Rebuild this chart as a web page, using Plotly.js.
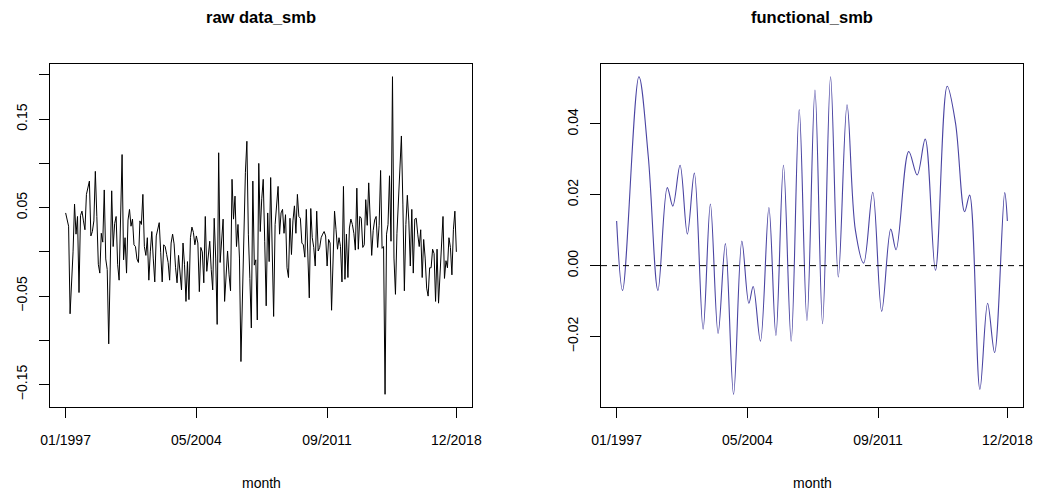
<!DOCTYPE html>
<html>
<head>
<meta charset="utf-8">
<script src="https://cdn.plot.ly/plotly-3.0.1.min.js"></script>
<style>
html,body{margin:0;padding:0;background:#fff;}
#chart{width:1044px;height:493px;}
</style>
</head>
<body>
<div id="chart"></div>
<script>
// ---- data ----
const titles = ["raw data_smb", "functional_smb"];
const xTickIdx = [1, 89, 177, 264];
const xTickLabels = ["01/1997", "05/2004", "09/2011", "12/2018"];
const rawTickVals = [-0.15, -0.10, -0.05, 0, 0.05, 0.10, 0.15, 0.20];
const rawTickText = ["\u22120.15", "", "\u22120.05", "", "0.05", "", "0.15", ""];
const funTickVals = [-0.02, 0, 0.02, 0.04];
const funTickText = ["\u22120.02", "0.00", "0.02", "0.04"];

// monthly raw smb, 01/1997 .. 12/2018
const rawSmb = [
 0.044, 0.036, 0.029, -0.070, -0.035, 0.000, 0.054, 0.020, 0.040, -0.046, 0.041, 0.046,
 0.035, 0.025, 0.065, 0.074, 0.080, 0.018, 0.023, 0.035, 0.091, 0.040, -0.014, -0.024,
 0.021, 0.011, 0.070, -0.008, -0.020, -0.104, -0.018, 0.069, 0.006, 0.032, 0.040, -0.014,
 -0.032, 0.030, 0.110, -0.009, 0.016, -0.024, 0.036, 0.048, 0.029, 0.037, 0.008, 0.006,
 -0.008, -0.012, 0.035, 0.031, 0.065, 0.006, -0.004, 0.016, -0.032, 0.000, 0.023, -0.008,
 -0.034, 0.018, 0.027, 0.033, -0.001, -0.034, 0.008, 0.006, -0.003, -0.012, -0.032, 0.010,
 0.020, 0.009, -0.018, -0.035, -0.004, -0.022, -0.043, 0.010, -0.014, -0.056, -0.011, -0.054,
 0.016, 0.028, 0.022, 0.008, 0.018, 0.010, -0.045, 0.005, 0.000, -0.035, 0.040, -0.022,
 -0.008, 0.012, -0.020, -0.043, 0.038, -0.007, -0.082, 0.112, -0.012, 0.015, 0.037, -0.056,
 -0.018, 0.001, -0.026, -0.044, 0.082, 0.037, 0.063, 0.006, 0.031, -0.007, -0.124, -0.050,
 0.030, 0.090, 0.125, 0.020, -0.030, -0.086, 0.080, -0.015, -0.009, -0.077, 0.100, 0.023,
 0.060, 0.082, 0.012, -0.061, 0.044, -0.011, 0.084, -0.018, -0.073, 0.031, 0.050, 0.074,
 0.020, 0.044, 0.048, 0.021, 0.042, -0.018, -0.029, 0.038, -0.003, 0.035, 0.052, 0.021,
 0.065, 0.040, 0.038, 0.010, 0.008, -0.006, 0.048, -0.011, -0.052, 0.049, 0.016, 0.005,
 -0.016, 0.046, 0.001, 0.005, 0.016, 0.020, 0.023, 0.018, -0.016, 0.014, 0.010, -0.066,
 -0.010, 0.046, 0.025, 0.003, 0.016, 0.006, -0.034, 0.074, -0.031, 0.020, -0.029, 0.027,
 0.037, 0.031, 0.021, 0.002, 0.072, 0.003, 0.040, 0.038, 0.005, 0.008, 0.059, 0.030,
 0.078, 0.028, -0.004, 0.024, 0.036, 0.040, 0.005, 0.030, 0.092, 0.004, 0.006, -0.161,
 0.020, 0.031, 0.086, 0.012, 0.198, -0.007, -0.048, 0.021, 0.054, 0.091, 0.131, 0.054,
 -0.044, 0.031, 0.064, 0.035, -0.016, 0.048, -0.024, 0.037, 0.038, 0.020, 0.006, 0.025,
 -0.029, 0.014, -0.007, -0.041, -0.050, -0.018, -0.018, 0.003, -0.002, -0.056, 0.003, -0.058,
 -0.028, 0.005, 0.040, -0.030, -0.010, -0.018, 0.016, 0.005, -0.026, 0.025, 0.046, 0.000
];

// functional (smoothed) smb: turning points (month index, value)
const funMonth = [1, 5, 16, 22.3, 28.8, 35.1, 38.8, 43.7, 48.6, 53.3, 59.2, 64.1, 69.3, 74.2, 79.7, 85.3, 90.0, 92.9, 97.8, 103.5, 108.2, 113.3, 118.5, 123.9, 129.1, 134.5, 139.6, 145.0, 150.2, 156.1, 161.7, 167.3, 173.4, 179.4, 185.5, 189.1, 197.6, 203.3, 208.7, 215.6, 223.5, 229.1, 235.2, 238.6, 245.5, 250.7, 255.4, 262.2, 264];
const funSmb = [0.0126, -0.0070, 0.0533, 0.0308, -0.0070, 0.0220, 0.0168, 0.0283, 0.0089, 0.0261, -0.0179, 0.0174, -0.0191, 0.0062, -0.0363, 0.0069, -0.0106, -0.0059, -0.0213, 0.0164, -0.0197, 0.0283, -0.0213, 0.0440, -0.0155, 0.0495, -0.0164, 0.0533, -0.0032, 0.0454, 0.0100, 0.0007, 0.0207, -0.0129, 0.0103, 0.0045, 0.0322, 0.0256, 0.0357, -0.0013, 0.0506, 0.0402, 0.0152, 0.0199, -0.0349, -0.0106, -0.0245, 0.0206, 0.0126];

// ---- build ----
const months = rawSmb.map((_, i) => i + 1);
function rng(lo, hi) { const d = (hi - lo) * 0.04; return [lo - d, hi + d]; }
const xr = rng(1, 264);
const yr1 = rng(Math.min(...rawSmb), Math.max(...rawSmb));
const yr2 = rng(Math.min(...funSmb), Math.max(...funSmb));

const W = 1044, H = 493;
const FONT = "Liberation Sans, Arial, Helvetica, sans-serif";
const boxTop = 64, boxBot = 407;
const yDom = [(H - boxBot) / H, (H - boxTop) / H];

const axBase = {
  showline: true, mirror: true, linecolor: "#000", linewidth: 1,
  ticks: "outside", ticklen: 10, tickwidth: 1, tickcolor: "#000",
  showgrid: false, zeroline: false,
  tickfont: {family: FONT, size: 14, color: "#000"},
  tickmode: "array", fixedrange: true
};

const traces = [
  {x: months, y: rawSmb, type: "scatter", mode: "lines", xaxis: "x", yaxis: "y",
   line: {color: "#000", width: 1}, hoverinfo: "skip"},
  {x: funMonth, y: funSmb, type: "scatter", mode: "lines", xaxis: "x2", yaxis: "y2",
   line: {color: "#4a44a2", width: 1.1, shape: "spline", smoothing: 1}, hoverinfo: "skip"}
];

const layout = {
  width: W, height: H, showlegend: false,
  paper_bgcolor: "#fff", plot_bgcolor: "#fff",
  margin: {l: 0, r: 0, t: 0, b: 0},
  xaxis: Object.assign({}, axBase, {domain: [50 / W, 472 / W], range: xr, tickvals: xTickIdx, ticktext: xTickLabels, anchor: "y", ticklabelstandoff: 10}),
  yaxis: Object.assign({}, axBase, {domain: yDom, range: yr1, tickvals: rawTickVals, ticktext: rawTickText, anchor: "x", tickangle: -90, ticklabelstandoff: 6}),
  xaxis2: Object.assign({}, axBase, {domain: [601 / W, 1023 / W], range: xr, tickvals: xTickIdx, ticktext: xTickLabels, anchor: "y2", ticklabelstandoff: 10}),
  yaxis2: Object.assign({}, axBase, {domain: yDom, range: yr2, tickvals: funTickVals, ticktext: funTickText, anchor: "x2", tickangle: -90, ticklabelstandoff: 6}),
  shapes: [
    {type: "line", xref: "x2 domain", x0: 0, x1: 1, yref: "y2", y0: 0, y1: 0,
     line: {color: "#000", width: 1, dash: "6px,5px"}}
  ],
  annotations: [
    {text: "<b>" + titles[0] + "</b>", xref: "paper", yref: "paper", x: 261 / W, y: 1 - 17 / H, showarrow: false, xanchor: "center", yanchor: "middle", font: {family: FONT, size: 16.5, color: "#000"}},
    {text: "<b>" + titles[1] + "</b>", xref: "paper", yref: "paper", x: 812 / W, y: 1 - 17 / H, showarrow: false, xanchor: "center", yanchor: "middle", font: {family: FONT, size: 16.5, color: "#000"}},
    {text: "month", xref: "paper", yref: "paper", x: 261 / W, y: 1 - 483 / H, showarrow: false, xanchor: "center", yanchor: "middle", font: {family: FONT, size: 14, color: "#000"}},
    {text: "month", xref: "paper", yref: "paper", x: 812 / W, y: 1 - 483 / H, showarrow: false, xanchor: "center", yanchor: "middle", font: {family: FONT, size: 14, color: "#000"}}
  ]
};

Plotly.newPlot("chart", traces, layout, {staticPlot: true, displayModeBar: false});
</script>
</body>
</html>
